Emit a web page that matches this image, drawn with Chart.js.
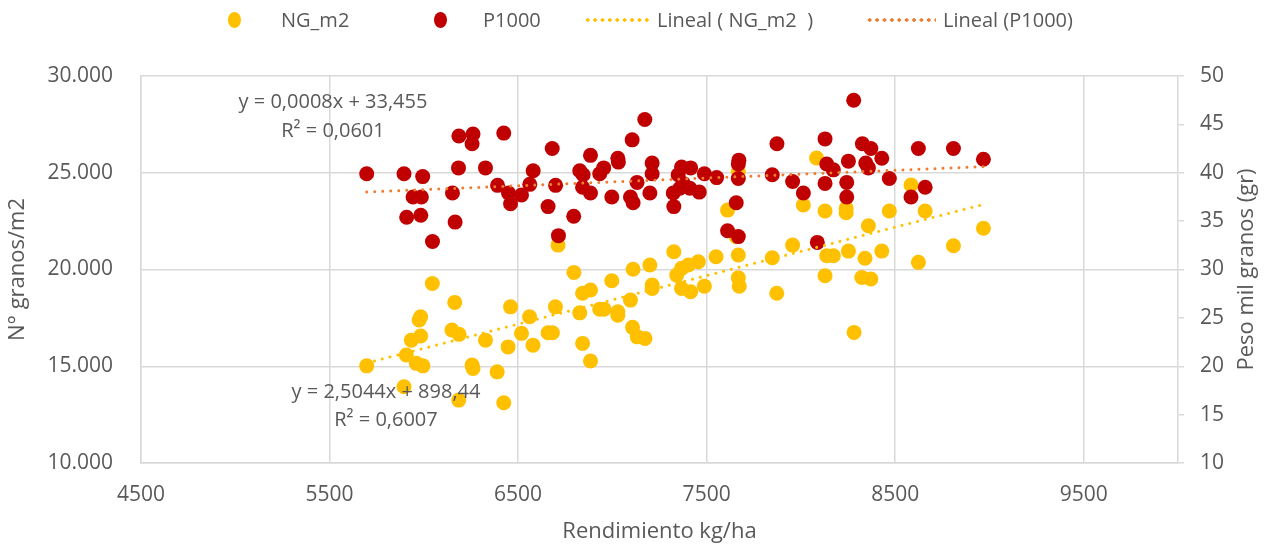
<!DOCTYPE html>
<html lang="es">
<head>
    <meta charset="UTF-8">
    <title>NG_m2 y P1000 vs Rendimiento</title>
    <script src="https://cdn.jsdelivr.net/npm/chart.js"></script>
    <style>
        body { margin: 0; background: #fff; font-family: "Open Sans", sans-serif; }
        .wrap { position: relative; width: 1264px; height: 546px; }
        .legend { position: absolute; top: 0; left: 0; width: 1264px; height: 40px; color: #595959; font-size: 20px; }
        .legend span { position: absolute; top: 8px; line-height: 24px; white-space: pre; }
        .legend .dot { position: absolute; width: 13px; height: 16px; border-radius: 50%; top: 12px; }
        .legend .dots { position: absolute; height: 4px; top: 18px; background-size: 7.4px 4px; background-repeat: repeat-x; }
    </style>
</head>
<body>
<div class="wrap">
    <canvas id="plot" width="1264" height="546"></canvas>
    <!-- legend like the Excel one -->
    <div class="legend">
        <div class="dot" style="left:228px;background:#FFC000"></div>
        <span style="left:281px">NG_m2</span>
        <div class="dot" style="left:434px;background:#C00000"></div>
        <span style="left:483px">P1000</span>
        <div class="dots" style="left:584px;width:66px;background-image:radial-gradient(circle, #FFC000 1.5px, transparent 2px)"></div>
        <span style="left:657px">Lineal ( NG_m2  )</span>
        <div class="dots" style="left:866px;width:70px;background-image:radial-gradient(circle, #ED7D31 1.5px, transparent 2px)"></div>
        <span style="left:943px">Lineal (P1000)</span>
    </div>
</div>
<script>
    // NG_m2 (left axis)
    const ngX = [6045, 5983, 5975, 5983, 5934, 5907, 5960, 5995, 5697, 5895,
                 6164, 6149, 6187, 6327, 6256, 6261, 6389, 6185, 6424, 6460,
                 6447, 6518, 6561, 6579, 6659, 6682, 6698, 6712, 6796, 6827,
                 6842, 6884, 6842, 6884, 6933, 6956, 6997, 7029, 7029, 7096,
                 7110, 7107, 7132, 7173, 7199, 7211, 7211, 7326, 7341, 7367,
                 7367, 7415, 7403, 7456, 7488, 7550, 8083, 7668, 7611, 7657,
                 8013, 8128, 8240, 8240, 8469, 8584, 8659, 8358, 8968, 8809,
                 8623, 8429, 8340, 8252, 8172, 8137, 7956, 7848, 7668, 7668,
                 7673, 7872, 8128, 8323, 8371, 8282];
    const ngY = [19280, 17560, 17390, 16560, 16350, 15580, 15150, 15020, 15020, 13940,
                 18300, 16870, 16650, 16350, 15060, 14890, 14710, 13250, 13110, 18070,
                 16000, 16700, 17560, 16090, 16730, 16730, 18070, 21260, 19850, 17760,
                 16180, 15270, 18770, 18940, 17950, 17950, 19420, 17820, 17640, 18420,
                 20010, 17010, 16520, 16440, 20230, 19200, 19020, 20920, 19710, 20060,
                 19020, 18850, 20230, 20400, 19140, 20660, 25760, 25050, 23070, 21690,
                 23330, 23020, 23160, 22930, 23020, 24370, 23020, 22260, 22130, 21230,
                 20370, 20950, 20580, 20950, 20710, 20710, 21260, 20610, 20750, 19570,
                 19140, 18770, 19680, 19590, 19510, 16750];

    // P1000 (right axis)
    const pX = [5697, 5895, 5994, 5943, 5987, 5909, 5984, 6046,
                6186, 6261, 6256, 6424, 6184, 6327, 6152, 6166,
                6391, 6449, 6460, 6518, 6580, 6562, 6681, 6699,
                6659, 6714, 6795, 6827, 6845, 6842, 6884, 6884,
                6933, 6954, 6997, 7029, 7032, 7096, 7110, 7131,
                7105, 7172, 7211, 7211, 7199, 7326, 7367, 7415,
                7349, 7323, 7358, 7376, 7411, 7461, 7488, 7553,
                7671, 7668, 7668, 7657, 7611, 7668, 7848, 7873,
                7956, 8013, 8087, 8128, 8137, 8172, 8128, 8243,
                8243, 8252, 8280, 8326, 8371, 8344, 8358, 8429,
                8469, 8584, 8659, 8623, 8809, 8968];
    const pY = [39.9, 39.9, 39.6, 37.5, 37.5, 35.4, 35.6, 32.9,
                43.8, 44.0, 43.0, 44.1, 40.5, 40.5, 37.9, 34.9,
                38.7, 37.9, 36.8, 37.7, 40.2, 38.8, 42.5, 38.7,
                36.5, 33.5, 35.5, 40.2, 39.8, 38.5, 37.9, 41.8,
                39.9, 40.5, 37.5, 41.5, 41.1, 37.5, 36.9, 39.0,
                43.4, 45.5, 41.0, 39.9, 37.9, 36.5, 40.6, 40.5,
                39.8, 37.9, 38.4, 38.9, 38.4, 38.0, 39.9, 39.5,
                41.3, 40.9, 39.4, 36.9, 34.0, 33.4, 39.8, 43.0,
                39.1, 37.9, 32.8, 43.5, 40.9, 40.3, 38.9, 39.0,
                37.5, 41.2, 47.5, 43.0, 42.5, 41.0, 40.5, 41.5,
                39.4, 37.5, 38.5, 42.5, 42.5, 41.4];

    // trendline ends (Excel "Lineal")
    const ngTrendX = [5697, 8968];
    const ngTrendY = [15165, 23360];
    const pTrendX = [5697, 8968];
    const pTrendY = [38.01, 40.63];

    const xTicks = [4500, 5500, 6500, 7500, 8500, 9500];
    const leftTicks = [10000, 15000, 20000, 25000, 30000];
    const rightTicks = [10, 15, 20, 25, 30, 35, 40, 45, 50];

    const eqTexts = ['y = 0,0008x + 33,455', 'R\u00b2 = 0,0601', 'y = 2,5044x + 898,44', 'R\u00b2 = 0,6007'];
    const rightTitle = 'Peso mil granos (gr)';

    const toPts = (xs, ys) => xs.map((x, i) => ({ x: x, y: ys[i] }));
    const fmtThousands = v => String(v).replace(/\B(?=(\d{3})+(?!\d))/g, '.');

    const txt = '#595959';
    const gridCol = '#D9D9D9';
    const fam = '"Open Sans", sans-serif';

    // equation labels + right axis title (Excel writes it bottom-to-top)
    const textPlugin = {
        id: 'extraText',
        afterDatasetsDraw(chart) {
            const c = chart.ctx;
            const area = chart.chartArea;
            c.save();
            c.font = '20px ' + fam;
            c.fillStyle = txt;
            c.textAlign = 'center';
            c.textBaseline = 'middle';
            c.fillText(eqTexts[0], 333, 102);
            c.fillText(eqTexts[1], 333, 131);
            c.fillText(eqTexts[2], 386, 392);
            c.fillText(eqTexts[3], 386, 420);

            c.font = '22px ' + fam;
            c.translate(1247, (area.top + area.bottom) / 2);
            c.rotate(-Math.PI / 2);
            c.fillText(rightTitle, 0, 0);
            c.restore();
        }
    };

    const ctx = document.getElementById('plot').getContext('2d');
    new Chart(ctx, {
        type: 'scatter',
        data: {
            datasets: [
                {
                    label: 'Lineal (P1000)',
                    data: toPts(pTrendX, pTrendY),
                    yAxisID: 'y1',
                    showLine: true,
                    borderColor: '#ED7D31',
                    borderWidth: 3,
                    borderDash: [0.01, 8],
                    borderCapStyle: 'round',
                    pointRadius: 0,
                    order: 1
                },
                {
                    label: 'Lineal ( NG_m2  )',
                    data: toPts(ngTrendX, ngTrendY),
                    yAxisID: 'y',
                    showLine: true,
                    borderColor: '#FFC000',
                    borderWidth: 3,
                    borderDash: [0.01, 8],
                    borderCapStyle: 'round',
                    pointRadius: 0,
                    order: 2
                },
                {
                    label: 'P1000',
                    data: toPts(pX, pY),
                    yAxisID: 'y1',
                    backgroundColor: '#C00000',
                    pointRadius: 7.5,
                    pointBorderWidth: 0,
                    order: 3
                },
                {
                    label: 'NG_m2',
                    data: toPts(ngX, ngY),
                    yAxisID: 'y',
                    backgroundColor: '#FFC000',
                    pointRadius: 7.5,
                    pointBorderWidth: 0,
                    order: 4
                }
            ]
        },
        options: {
            responsive: false,
            animation: false,
            devicePixelRatio: 1,
            layout: { padding: { top: 76, left: 0, right: 0, bottom: 0 } },
            plugins: { legend: { display: false }, tooltip: { enabled: false } },
            scales: {
                x: {
                    type: 'linear',
                    position: 'bottom',
                    min: 4500,
                    max: 10000,
                    afterBuildTicks: s => { s.ticks = xTicks.map(v => ({ value: v })); },
                    afterFit: s => { s.height = 83; },
                    grid: { color: gridCol, lineWidth: 1.5, drawTicks: false },
                    border: { color: gridCol, width: 1.5 },
                    ticks: { color: txt, font: { family: fam, size: 21 }, padding: 19, autoSkip: false, maxRotation: 0, callback: v => String(v) },
                    title: { display: true, text: 'Rendimiento kg/ha', color: txt, font: { family: fam, size: 22 }, padding: { top: 0, bottom: 1 } }
                },
                y: {
                    position: 'left',
                    min: 10000,
                    max: 30000,
                    afterBuildTicks: s => { s.ticks = leftTicks.map(v => ({ value: v })); },
                    afterFit: s => { s.width = 141; },
                    grid: { color: gridCol, lineWidth: 1.5, drawTicks: false },
                    border: { color: gridCol, width: 1.5 },
                    ticks: { color: txt, font: { family: fam, size: 21 }, padding: 28, callback: v => fmtThousands(v) },
                    title: { display: true, text: 'N\u00b0 granos/m2', color: txt, font: { family: fam, size: 22 }, padding: { top: 5, bottom: 0 } }
                },
                y1: {
                    position: 'right',
                    min: 10,
                    max: 50,
                    afterBuildTicks: s => { s.ticks = rightTicks.map(v => ({ value: v })); },
                    afterFit: s => { s.width = 86; },
                    grid: { color: gridCol, lineWidth: 1.5, drawOnChartArea: false, tickLength: 6 },
                    border: { color: gridCol, width: 1.5 },
                    ticks: { color: txt, font: { family: fam, size: 21 }, padding: 16 },
                    title: { display: false }
                }
            }
        },
        plugins: [textPlugin]
    });
</script>
</body>
</html>
